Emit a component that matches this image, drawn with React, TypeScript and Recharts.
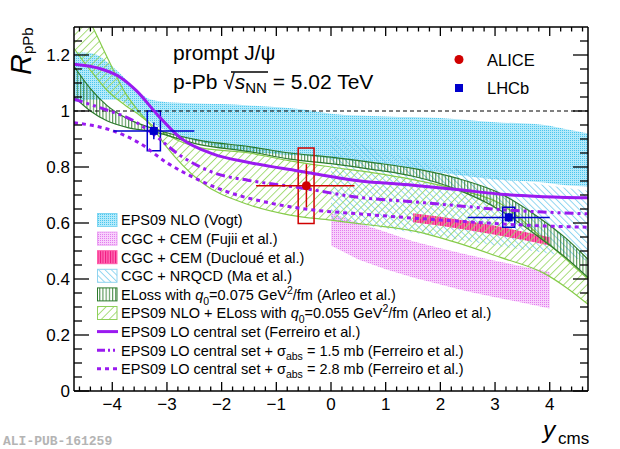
import React from 'react';
import {
  ComposedChart, Area, Line, Scatter, XAxis, YAxis, ReferenceLine, ReferenceArea, ErrorBar,
} from 'recharts';

const FONT = '"Liberation Sans", Arial, Helvetica, sans-serif';
const PURPLE = '#9a1af0';

// ---------- tick values ----------
const yTicks = [0, 0.05, 0.1, 0.15, 0.2, 0.25, 0.3, 0.35, 0.4, 0.45, 0.5, 0.55, 0.6, 0.65, 0.7, 0.75, 0.8, 0.85, 0.9, 0.95, 1, 1.05, 1.1, 1.15, 1.2, 1.25];
const xTicks = [-4.6, -4.4, -4.2, -4, -3.8, -3.6, -3.4, -3.2, -3, -2.8, -2.6, -2.4, -2.2, -2, -1.8, -1.6, -1.4, -1.2, -1, -0.8, -0.6, -0.4, -0.2, 0, 0.2, 0.4, 0.6, 0.8, 1, 1.2, 1.4, 1.6, 1.8, 2, 2.2, 2.4, 2.6, 2.8, 3, 3.2, 3.4, 3.6, 3.8, 4, 4.2, 4.4, 4.6];

// ---------- EPS09 NLO (Vogt) ----------
const vogtX = [-4.7, -4.4, -3.9, -3.6, -3.3, -2.9, -2.3, -2.0, -1.5, -0.5, 0, 1, 2, 3, 3.9, 4.3, 4.7];
const vogtHi = [1.21, 1.207, 1.142, 1.083, 1.041, 1.03, 1.026, 1.025, 1.02, 1.005, 0.99, 0.98, 0.975, 0.96, 0.95, 0.935, 0.92];
const vogtLo = [1.03, 1.04, 1.04, 1.0, 0.96, 0.92, 0.885, 0.87, 0.855, 0.84, 0.83, 0.81, 0.78, 0.755, 0.745, 0.735, 0.73];

// ---------- CGC + CEM (Fujii) ----------
const fujiiX = [0, 0.5, 1, 1.5, 2, 2.5, 3, 3.5, 4];
const fujiiHi = [0.636, 0.6, 0.568, 0.535, 0.51, 0.487, 0.465, 0.445, 0.425];
const fujiiLo = [0.52, 0.47, 0.435, 0.405, 0.38, 0.355, 0.335, 0.315, 0.295];

// ---------- CGC + CEM (Ducloue) ----------
const ducX = [1.5, 2, 2.5, 3, 3.5, 4];
const ducHi = [0.635, 0.622, 0.607, 0.59, 0.57, 0.549];
const ducLo = [0.603, 0.59, 0.575, 0.558, 0.54, 0.52];

// ---------- CGC + NRQCD (Ma) ----------
const maX = [0, 0.5, 1, 1.5, 2, 2.5, 3, 3.5, 4, 4.7];
const maHi = [0.915, 0.885, 0.855, 0.828, 0.805, 0.785, 0.765, 0.748, 0.733, 0.715];
const maLo = [0.61, 0.595, 0.58, 0.565, 0.55, 0.535, 0.52, 0.505, 0.49, 0.465];

// ---------- ELoss q0=0.075 (Arleo) ----------
const elX = [-4.7, -4.4, -4.1, -3.7, -3.3, -2.4, -1.5, -0.75, 0, 0.8, 1.5, 2.3, 3.1, 3.8, 4.3, 4.7];
const elHi = [1.16, 1.08, 1.02, 0.97, 0.94, 0.895, 0.873, 0.85, 0.835, 0.815, 0.795, 0.76, 0.705, 0.62, 0.545, 0.47];
const elLo = [1.05, 1.0, 0.965, 0.94, 0.928, 0.88, 0.855, 0.828, 0.812, 0.79, 0.767, 0.72, 0.645, 0.55, 0.475, 0.405];

// ---------- EPS09 NLO + ELoss q0=0.055 (Arleo) ----------
const epsElX = [-4.7, -4.5, -4.36, -4.1, -3.76, -3.5, -3.3, -3.0, -2.4, -1.5, -0.75, 0, 0.75, 1.5, 2.3, 3.1, 3.9, 4.3, 4.7];
const epsElA = [1.43, 1.35, 1.3, 1.195, 1.064, 0.995, 0.95, 0.87, 0.75, 0.665, 0.628, 0.61, 0.592, 0.572, 0.53, 0.477, 0.42, 0.37, 0.31];
const epsElB = [1.224, 1.17, 1.136, 1.075, 1.02, 0.985, 0.954, 0.915, 0.869, 0.85, 0.822, 0.8, 0.78, 0.755, 0.72, 0.669, 0.54, 0.47, 0.4];

// ---------- EPS09 LO (Ferreiro) curves ----------
const loX = [-4.7, -4.2, -3.85, -3.55, -3.18, -2.76, -2.15, -1.5, -0.6, 0.5, 1.5, 2.3, 3.1, 3.8, 4.7];
const loY = [1.167, 1.15, 1.12, 1.071, 0.988, 0.905, 0.846, 0.816, 0.786, 0.751, 0.735, 0.72, 0.703, 0.695, 0.69];
const abs15X = [-4.7, -4.2, -3.6, -3.3, -2.75, -2.15, -1.5, -0.6, 0.5, 1.6, 2.3, 3.1, 3.8, 4.7];
const abs15Y = [1.042, 1.01, 0.964, 0.925, 0.84, 0.78, 0.752, 0.727, 0.692, 0.674, 0.662, 0.648, 0.64, 0.633];
const abs28X = [-4.7, -4.0, -3.5, -3.0, -2.4, -1.8, -1.2, -0.4, 0.5, 1.6, 2.3, 3.1, 3.8, 4.7];
const abs28Y = [0.958, 0.93, 0.885, 0.815, 0.752, 0.705, 0.675, 0.648, 0.633, 0.616, 0.607, 0.597, 0.59, 0.585];

// ---------- data points ----------
const aliceX = [-0.45];
const aliceY = [0.733];
const aliceXErrLo = [0.92];
const aliceXErrHi = [0.88];
const aliceStat = [0.077];
const aliceSysX1 = [-0.6];
const aliceSysX2 = [-0.31];
const aliceSysY1 = [0.598];
const aliceSysY2 = [0.868];

const lhcbX = [-3.24, 3.25];
const lhcbY = [0.929, 0.62];
const lhcbXErrLo = [0.74, 0.75];
const lhcbXErrHi = [0.74, 0.75];
const lhcbStat = [0.03, 0.015];
const lhcbSysX1 = [-3.36, 3.14];
const lhcbSysX2 = [-3.12, 3.36];
const lhcbSysY1 = [0.858, 0.585];
const lhcbSysY2 = [1.0, 0.656];

// ---------- build library tables ----------
const band = (xs: number[], a: number[], b: number[]) => xs.map((x, i) => ({ x, r: [a[i], b[i]] }));
const curve = (xs: number[], ys: number[]) => xs.map((x, i) => ({ x, y: ys[i] }));

const vogtData = band(vogtX, vogtLo, vogtHi);
const fujiiData = band(fujiiX, fujiiLo, fujiiHi);
const ducData = band(ducX, ducLo, ducHi);
const maData = band(maX, maLo, maHi);
const elData = band(elX, elLo, elHi);
const epsElData = band(epsElX, epsElA, epsElB);
const loData = curve(loX, loY);
const abs15Data = curve(abs15X, abs15Y);
const abs28Data = curve(abs28X, abs28Y);
const aliceData = aliceX.map((x, i) => ({ x, y: aliceY[i], ex: [aliceXErrLo[i], aliceXErrHi[i]], ey: aliceStat[i] }));
const lhcbData = lhcbX.map((x, i) => ({ x, y: lhcbY[i], ex: [lhcbXErrLo[i], lhcbXErrHi[i]], ey: lhcbStat[i] }));

// ---------- ticks ----------
const isXMajor = (v: number) => Math.abs(v - Math.round(v)) < 1e-6;
const isYMajor = (v: number) => Math.abs(v * 5 - Math.round(v * 5)) < 1e-6;
const fmt = (v: number) => {
  const r = Math.round(v * 100) / 100;
  const s = String(Math.abs(r));
  return r < 0 ? '\u2212' + s : s;
};

const TickBottom = (p: any) => {
  const v = p.payload.value;
  const major = isXMajor(v);
  return (
    <g>
      <line x1={p.x} y1={p.y} x2={p.x} y2={p.y - (major ? 9 : 4.5)} stroke="#000" strokeWidth={1.3} />
      {major && (
        <text x={p.x} y={p.y + 19} textAnchor="middle" fontSize={17} fontFamily={FONT} fill="#000">{fmt(v)}</text>
      )}
    </g>
  );
};
const TickTop = (p: any) => {
  const v = p.payload.value;
  const major = isXMajor(v);
  return <line x1={p.x} y1={p.y} x2={p.x} y2={p.y + (major ? 9 : 4.5)} stroke="#000" strokeWidth={1.3} />;
};
const TickLeft = (p: any) => {
  const v = p.payload.value;
  const major = isYMajor(v);
  return (
    <g>
      <line x1={p.x} y1={p.y} x2={p.x + (major ? 15 : 8)} y2={p.y} stroke="#000" strokeWidth={1.3} />
      {major && (
        <text x={p.x - 4} y={p.y + 6} textAnchor="end" fontSize={17} fontFamily={FONT} fill="#000">{fmt(v)}</text>
      )}
    </g>
  );
};
const TickRight = (p: any) => {
  const v = p.payload.value;
  const major = isYMajor(v);
  return <line x1={p.x} y1={p.y} x2={p.x - (major ? 15 : 8)} y2={p.y} stroke="#000" strokeWidth={1.3} />;
};

const Defs = () => (
  <svg width={1} height={1} style={{ position: 'absolute', left: 0, top: 0 }}>
    <defs>
      <pattern id="patVogt" width="2" height="2" patternUnits="userSpaceOnUse">
        <rect width="2" height="2" fill="#b5eafa" />
        <rect width="1" height="1" fill="#4cc6ee" />
      </pattern>
      <pattern id="patFujii" width="2" height="2" patternUnits="userSpaceOnUse">
        <rect width="2" height="2" fill="#f8d2fb" />
        <rect width="1" height="1" fill="#e27cef" />
      </pattern>
      <pattern id="patDuc" width="2.5" height="2" patternUnits="userSpaceOnUse">
        <rect width="2.5" height="2" fill="#ff6cb4" />
        <rect width="1" height="2" fill="#f0157f" />
      </pattern>
      <pattern id="patMa" width="4.5" height="10" patternUnits="userSpaceOnUse" patternTransform="rotate(-45)">
        <line x1="0.5" y1="0" x2="0.5" y2="10" stroke="#7fcfee" strokeWidth="0.9" />
      </pattern>
      <pattern id="patEL" width="3.2" height="10" patternUnits="userSpaceOnUse">
        <line x1="0.6" y1="0" x2="0.6" y2="10" stroke="#2c7a2c" strokeWidth="0.9" />
      </pattern>
      <pattern id="patEpsEL" width="5.5" height="10" patternUnits="userSpaceOnUse" patternTransform="rotate(45)">
        <line x1="0.5" y1="0" x2="0.5" y2="10" stroke="#9ad766" strokeWidth="0.9" />
      </pattern>
    </defs>
  </svg>
);

const LX = 97;
const TX = 121;
const rowY = [220, 238.6, 257.2, 275.8, 294.4, 313, 331.6, 350.2, 368.8];
const LFS = 14.5;
const SUB = 10.5;

const swatch = (i: number, fill: string, stroke: string) => (
  <rect x={LX + 0.5} y={rowY[i] - 6.5} width={19.5} height={13} fill={fill} stroke={stroke} strokeWidth={1} />
);
const lineSwatch = (i: number, dash?: string) => (
  <line x1={LX} y1={rowY[i]} x2={LX + 21} y2={rowY[i]} stroke={PURPLE} strokeWidth={3} strokeDasharray={dash} />
);
const ltext = (i: number, children: React.ReactNode) => (
  <text x={TX} y={rowY[i] + 5.4} fontSize={LFS} fontFamily={FONT} fill="#000">{children}</text>
);

const Overlay = () => (
  <svg width={620} height={449} style={{ position: 'absolute', left: 0, top: 0, pointerEvents: 'none' }}>
    {/* title */}
    <text x={173} y={60} fontSize={21} fontFamily={FONT} fill="#000">prompt J/ψ</text>
    <text x={173} y={89} fontSize={21} fontFamily={FONT} fill="#000">
      p-Pb <tspan>√</tspan><tspan fontStyle="italic">s</tspan><tspan fontSize={15} dy={4}>NN</tspan><tspan dy={-4}> = 5.02 TeV</tspan>
    </text>
    <line x1={231} y1={72} x2={268} y2={72} stroke="#000" strokeWidth={1.3} />

    {/* experiment legend */}
    <circle cx={459} cy={59.5} r={4.5} fill="#d00000" />
    <text x={487} y={65.5} fontSize={16.5} fontFamily={FONT} fill="#000">ALICE</text>
    <rect x={455} y={84} width={8} height={8} fill="#0000cc" />
    <text x={487} y={93.5} fontSize={16.5} fontFamily={FONT} fill="#000">LHCb</text>

    {/* model legend */}
    {swatch(0, 'url(#patVogt)', '#7fd6f2')}
    {ltext(0, 'EPS09 NLO (Vogt)')}
    {swatch(1, 'url(#patFujii)', '#eaa0f3')}
    {ltext(1, 'CGC + CEM (Fujii et al.)')}
    {swatch(2, 'url(#patDuc)', '#ff5aa8')}
    {ltext(2, 'CGC + CEM (Ducloué et al.)')}
    {swatch(3, 'url(#patMa)', '#8fd3ef')}
    {ltext(3, 'CGC + NRQCD (Ma et al.)')}
    {swatch(4, 'url(#patEL)', '#2c7a2c')}
    {ltext(4, <>ELoss with <tspan fontStyle="italic">q</tspan><tspan fontSize={SUB} dy={5}>0</tspan><tspan dy={-5}>=0.075 GeV</tspan><tspan fontSize={SUB} dy={-6}>2</tspan><tspan dy={6}>/fm (Arleo et al.)</tspan></>)}
    {swatch(5, 'url(#patEpsEL)', '#8fd05a')}
    {ltext(5, <>EPS09 NLO + ELoss with <tspan fontStyle="italic">q</tspan><tspan fontSize={SUB} dy={5}>0</tspan><tspan dy={-5}>=0.055 GeV</tspan><tspan fontSize={SUB} dy={-6}>2</tspan><tspan dy={6}>/fm (Arleo et al.)</tspan></>)}
    {lineSwatch(6)}
    {ltext(6, 'EPS09 LO central set (Ferreiro et al.)')}
    {lineSwatch(7, '8 3 2 3 2 3')}
    {ltext(7, <>EPS09 LO central set + σ<tspan fontSize={SUB} dy={4}>abs</tspan><tspan dy={-4}> = 1.5 mb (Ferreiro et al.)</tspan></>)}
    {lineSwatch(8, '4 4')}
    {ltext(8, <>EPS09 LO central set + σ<tspan fontSize={SUB} dy={4}>abs</tspan><tspan dy={-4}> = 2.8 mb (Ferreiro et al.)</tspan></>)}

    {/* axis titles */}
    <text transform="translate(31,75) rotate(-90)" fontFamily={FONT} fill="#000">
      <tspan fontSize={29} fontStyle="italic">R</tspan><tspan fontSize={15} dy={2}>pPb</tspan>
    </text>
    <text x={543} y={438} fontSize={24.5} fontStyle="italic" fontFamily={FONT} fill="#000">y</text>
    <text x={558} y={444} fontSize={17} fontFamily={FONT} fill="#000">cms</text>

    <text x={3} y={445} fontSize={13} fontWeight="bold" fontFamily='"Liberation Mono", "DejaVu Sans Mono", monospace' fill="#b4b4b4">ALI-PUB-161259</text>
  </svg>
);

const AX = { xAxisId: 'b', yAxisId: 'l' } as const;

export default function App() {
  return (
    <div style={{ position: 'absolute', left: 0, top: 0, width: 620, height: 449, background: '#fff' }}>
      <Defs />
      <ComposedChart width={620} height={449} margin={{ top: 26, right: 31, bottom: 57, left: 73 }}>
        <XAxis xAxisId="b" dataKey="x" type="number" domain={[-4.7, 4.7]} allowDataOverflow ticks={xTicks} interval={0}
          height={1} tickSize={0} tickMargin={0} tickLine={false} tick={TickBottom}
          axisLine={{ stroke: '#000', strokeWidth: 1.5 }} />
        <XAxis xAxisId="t" orientation="top" dataKey="x" type="number" domain={[-4.7, 4.7]} allowDataOverflow ticks={xTicks} interval={0}
          height={1} tickSize={0} tickMargin={0} tickLine={false} tick={TickTop}
          axisLine={{ stroke: '#000', strokeWidth: 1.5 }} />
        <YAxis yAxisId="l" dataKey="y" type="number" domain={[0, 1.3]} allowDataOverflow ticks={yTicks} interval={0}
          width={1} tickSize={0} tickMargin={0} tickLine={false} tick={TickLeft}
          axisLine={{ stroke: '#000', strokeWidth: 1.5 }} />
        <YAxis yAxisId="r" orientation="right" type="number" domain={[0, 1.3]} allowDataOverflow ticks={yTicks} interval={0}
          width={1} tickSize={0} tickMargin={0} tickLine={false} tick={TickRight}
          axisLine={{ stroke: '#000', strokeWidth: 1.5 }} />

        <Area {...AX} data={vogtData} dataKey="r" type="monotone" fill="url(#patVogt)" fillOpacity={1} stroke="none" dot={false} activeDot={false} isAnimationActive={false} />
        <Area {...AX} data={fujiiData} dataKey="r" type="linear" fill="url(#patFujii)" fillOpacity={1} stroke="none" dot={false} activeDot={false} isAnimationActive={false} />
        <Area {...AX} data={maData} dataKey="r" type="monotone" fill="url(#patMa)" fillOpacity={1} stroke="none" dot={false} activeDot={false} isAnimationActive={false} />
        <Area {...AX} data={ducData} dataKey="r" type="linear" fill="url(#patDuc)" fillOpacity={1} stroke="none" dot={false} activeDot={false} isAnimationActive={false} />
        <Area {...AX} data={epsElData} dataKey="r" type="monotone" fill="url(#patEpsEL)" fillOpacity={1} stroke="#86cc4a" strokeWidth={1.2} dot={false} activeDot={false} isAnimationActive={false} />
        <Area {...AX} data={elData} dataKey="r" type="monotone" fill="url(#patEL)" fillOpacity={1} stroke="#2c7a2c" strokeWidth={1.2} dot={false} activeDot={false} isAnimationActive={false} />

        <ReferenceLine {...AX} y={1} stroke="#000" strokeWidth={1} strokeDasharray="4 3" />

        <Line {...AX} data={loData} dataKey="y" type="monotone" stroke={PURPLE} strokeWidth={3} dot={false} activeDot={false} isAnimationActive={false} />
        <Line {...AX} data={abs15Data} dataKey="y" type="monotone" stroke={PURPLE} strokeWidth={3} strokeDasharray="9 4 3 4 3 4" dot={false} activeDot={false} isAnimationActive={false} />
        <Line {...AX} data={abs28Data} dataKey="y" type="monotone" stroke={PURPLE} strokeWidth={3} strokeDasharray="4 4" dot={false} activeDot={false} isAnimationActive={false} />

        {aliceSysX1.map((x1, i) => (
          <ReferenceArea key={'as' + i} {...AX} x1={x1} x2={aliceSysX2[i]} y1={aliceSysY1[i]} y2={aliceSysY2[i]} fill="none" fillOpacity={0} stroke="#d00000" strokeWidth={1.5} />
        ))}
        {lhcbSysX1.map((x1, i) => (
          <ReferenceArea key={'ls' + i} {...AX} x1={x1} x2={lhcbSysX2[i]} y1={lhcbSysY1[i]} y2={lhcbSysY2[i]} fill="none" fillOpacity={0} stroke="#0000cc" strokeWidth={1.5} />
        ))}

        <Scatter {...AX} data={aliceData} dataKey="y" isAnimationActive={false}
          shape={(p: any) => <circle cx={p.cx} cy={p.cy} r={4.5} fill="#d00000" />}>
          <ErrorBar dataKey="ex" direction="x" width={0} stroke="#d00000" strokeWidth={1.5} />
          <ErrorBar dataKey="ey" direction="y" width={0} stroke="#d00000" strokeWidth={1.5} />
        </Scatter>
        <Scatter {...AX} data={lhcbData} dataKey="y" isAnimationActive={false}
          shape={(p: any) => <rect x={p.cx - 4} y={p.cy - 4} width={8} height={8} fill="#0000cc" />}>
          <ErrorBar dataKey="ex" direction="x" width={0} stroke="#0000cc" strokeWidth={1.5} />
          <ErrorBar dataKey="ey" direction="y" width={0} stroke="#0000cc" strokeWidth={1.5} />
        </Scatter>
      </ComposedChart>
      <Overlay />
    </div>
  );
}
